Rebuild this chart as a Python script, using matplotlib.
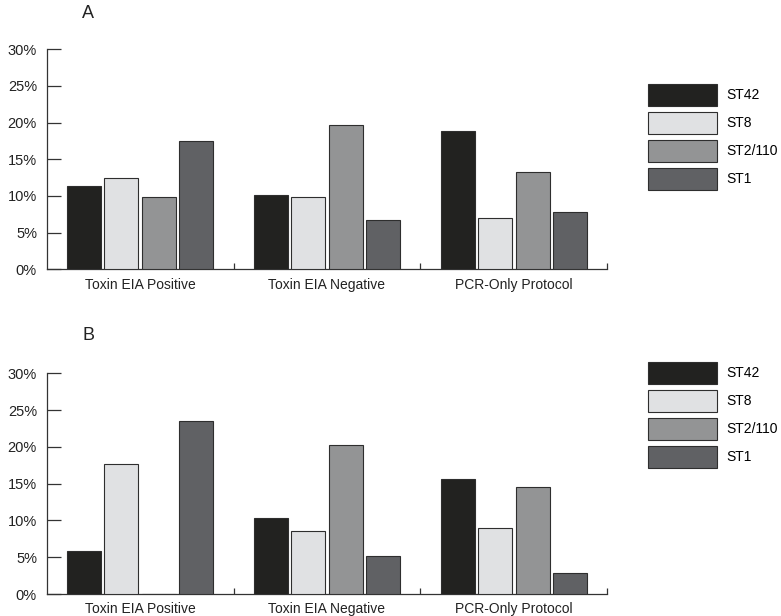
import matplotlib.pyplot as plt
import numpy as np

plt.rcParams['font.family'] = ['Liberation Sans', 'DejaVu Sans']

categories = ['Toxin EIA Positive', 'Toxin EIA Negative', 'PCR-Only Protocol']
types = ['ST42', 'ST8', 'ST2/110', 'ST1']
colors = ['#222220', '#e0e1e3', '#939495', '#606164']

# percent values, panel A and panel B
panel_a = {
    'ST42':    [11.3, 10.2, 18.8],
    'ST8':     [12.4, 9.8, 7.0],
    'ST2/110': [9.8, 19.7, 13.3],
    'ST1':     [17.5, 6.7, 7.8],
}
panel_b = {
    'ST42':    [5.9, 10.3, 15.6],
    'ST8':     [17.7, 8.5, 9.0],
    'ST2/110': [0.0, 20.3, 14.6],
    'ST1':     [23.5, 5.1, 2.9],
}
yticks = [0, 5, 10, 15, 20, 25, 30]

W, H = 781, 616
fig = plt.figure(figsize=(W / 100, H / 100), dpi=100)

def draw_panel(ax, data, letter, letter_y, legend_top):
    x = np.arange(len(categories)) + 0.5
    for i, t in enumerate(types):
        ax.bar(x + (i - 1.5) * 0.2, data[t], width=0.182, color=colors[i],
               edgecolor='#2e2e2e', linewidth=0.8, label=t, zorder=3)
    ax.set_xlim(0, 3)
    ax.set_ylim(0, 30)
    ax.spines['top'].set_visible(False)
    ax.spines['right'].set_visible(False)
    for s in ['left', 'bottom']:
        ax.spines[s].set_color('#333333')
        ax.spines[s].set_linewidth(0.9)
    ax.set_yticks(yticks)
    ax.set_yticklabels([f'{v}%' for v in yticks], fontsize=10.5, color='#222222')
    ax.tick_params(axis='y', direction='in', length=10, width=0.9, color='#333333', pad=7)
    ax.set_xticks(x)
    ax.set_xticklabels(categories, fontsize=10, color='#222222')
    ax.tick_params(axis='x', which='major', length=0, pad=6)
    ax.set_xticks([1, 2, 3], minor=True)
    ax.tick_params(axis='x', which='minor', direction='in', length=4, width=0.9, color='#333333')
    fig.text(82 / W, letter_y, letter, fontsize=13, va='center', color='#222222')
    ax.legend(loc='upper left', bbox_to_anchor=(648 / W, legend_top),
              bbox_transform=fig.transFigure, frameon=False, fontsize=10,
              handlelength=5.0, handleheight=2.06, labelspacing=0.42,
              handletextpad=0.65, borderpad=0, borderaxespad=0)

ax1 = fig.add_axes([46.7 / W, 1 - 269.3 / H, (607.3 - 46.7) / W, 220 / H])
draw_panel(ax1, panel_a, 'A', 1 - 13 / H, 1 - 84 / H)

ax2 = fig.add_axes([46.7 / W, 1 - 594 / H, (607.3 - 46.7) / W, 220.7 / H])
draw_panel(ax2, panel_b, 'B', 1 - 336 / H, 1 - 362 / H)

fig.savefig('out.png', dpi=100)
